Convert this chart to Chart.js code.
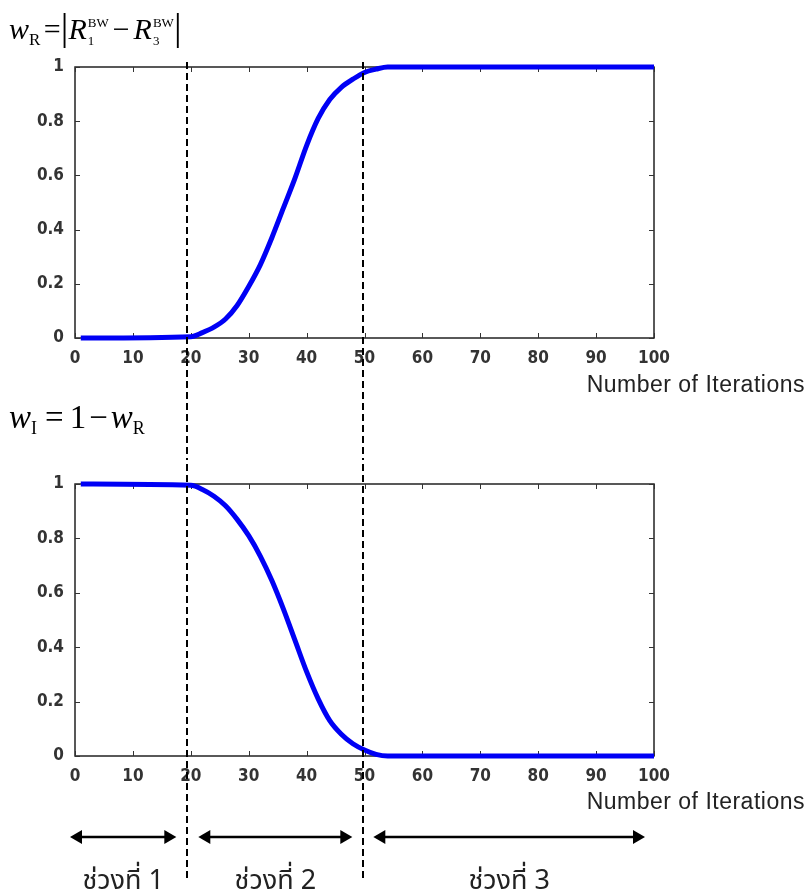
<!DOCTYPE html>
<html>
<head>
<meta charset="utf-8">
<script src="https://cdn.jsdelivr.net/npm/chart.js@4.4.1/dist/chart.umd.min.js"></script>
<style>
html,body{margin:0;padding:0;background:#fff;width:808px;height:894px;overflow:hidden;}
canvas{position:absolute;left:0;}
#c1{top:0;}
#c2{top:460px;}
.eq{position:absolute;font-family:'Liberation Serif','Times New Roman',serif;color:#000;white-space:nowrap;z-index:5;}
.noi{position:absolute;right:3px;font-family:'Liberation Sans',Arial,sans-serif;font-size:23px;letter-spacing:0.5px;color:#222;z-index:5;line-height:1;}
.ss{display:inline-block;vertical-align:-6px;font-size:13px;line-height:18px;font-style:normal;margin-left:1px;}
.ss span{display:block;}
</style>
</head>
<body>
<div class="eq" style="left:9px;top:4px;font-size:30px;">
<i>w</i><span style="font-size:17px;position:relative;top:6px;">R</span>
<span style="margin-left:-4px;">=</span><span style="font-size:38px;position:relative;top:1px;">|</span><i>R</i><span class="ss"><span>BW</span><span>1</span></span><span style="margin:0 4px;">−</span><i>R</i><span class="ss"><span>BW</span><span>3</span></span><span style="font-size:38px;position:relative;top:1px;">|</span>
</div>
<div class="eq" style="left:9px;top:399px;font-size:33px;">
<i>w</i><span style="font-size:18px;position:relative;top:6px;">I</span><span style="margin-left:8px;">=</span><span style="margin-left:6px;">1</span><span style="margin-left:3px;">−</span><i style="margin-left:3px;">w</i><span style="font-size:18px;position:relative;top:6px;">R</span>
</div>
<div class="noi" style="top:373px;">Number of Iterations</div>
<div class="noi" style="top:790px;">Number of Iterations</div>

<canvas id="c1" width="808" height="460"></canvas>
<canvas id="c2" width="808" height="434"></canvas>

<script>
// ---- data ----
const iterations = [1, 20, 22, 24, 26, 28, 30, 32, 34, 36, 38, 40, 42, 44, 46, 48, 50, 52, 54, 100];
const wR = [0, 0.005, 0.02, 0.04, 0.07, 0.12, 0.19, 0.27, 0.37, 0.48, 0.59, 0.71, 0.81, 0.88, 0.925, 0.955, 0.98, 0.992, 1, 1];
const wI = [1, 0.995, 0.98, 0.955, 0.92, 0.87, 0.81, 0.735, 0.645, 0.54, 0.425, 0.31, 0.21, 0.13, 0.08, 0.045, 0.022, 0.006, 0, 0];
const xTicks = [0, 10, 20, 30, 40, 50, 60, 70, 80, 90, 100];
const yTicks = [0, 0.2, 0.4, 0.6, 0.8, 1];
const phaseBounds = [19.4, 49.8];
const phaseLabels = ['ช่วงที่ 1', 'ช่วงที่ 2', 'ช่วงที่ 3'];

const tickFont = {family: "'DejaVu Sans Condensed','Liberation Sans Narrow','DejaVu Sans',sans-serif", size: 17, weight: 'bold'};
const LINE_BLUE = '#0000f5';

// draws the MATLAB-like box with inward ticks
const boxPlugin = {
  id: 'boxPlugin',
  beforeDatasetsDraw(chart) {
    const {ctx, chartArea: a, scales: {x, y}} = chart;
    ctx.save();
    ctx.strokeStyle = '#222';
    ctx.lineWidth = 1.5;
    ctx.strokeRect(a.left, a.top, a.right - a.left, a.bottom - a.top);
    ctx.lineWidth = 1;
    ctx.strokeStyle = '#333';
    const L = 5;
    x.ticks.forEach(t => {
      const px = Math.round(x.getPixelForValue(t.value)) + 0.5;
      ctx.beginPath();
      ctx.moveTo(px, a.bottom); ctx.lineTo(px, a.bottom - L);
      ctx.moveTo(px, a.top); ctx.lineTo(px, a.top + L);
      ctx.stroke();
    });
    y.ticks.forEach(t => {
      const py = Math.round(y.getPixelForValue(t.value)) + 0.5;
      ctx.beginPath();
      ctx.moveTo(a.left, py); ctx.lineTo(a.left + L, py);
      ctx.moveTo(a.right, py); ctx.lineTo(a.right - L, py);
      ctx.stroke();
    });
    ctx.restore();
  }
};

function dashes(ctx, px, y0, y1, offset) {
  ctx.save();
  ctx.strokeStyle = '#000';
  ctx.lineWidth = 2;
  ctx.setLineDash([7, 4]);
  ctx.lineDashOffset = offset || 0;
  ctx.beginPath();
  ctx.moveTo(px, y0); ctx.lineTo(px, y1);
  ctx.stroke();
  ctx.restore();
}

const topDashPlugin = {
  id: 'topDash',
  afterDatasetsDraw(chart) {
    const {ctx, chartArea: a, scales: {x}} = chart;
    phaseBounds.forEach(b => {
      const px = Math.round(x.getPixelForValue(b));
      dashes(ctx, px, a.top - 5, chart.height, 0);
    });
  }
};

function arrow(ctx, x1, x2, y) {
  const hl = 12, hw = 7;
  ctx.save();
  ctx.fillStyle = '#000';
  ctx.strokeStyle = '#000';
  ctx.lineWidth = 2.5;
  ctx.beginPath(); ctx.moveTo(x1 + hl - 1, y); ctx.lineTo(x2 - hl + 1, y); ctx.stroke();
  ctx.beginPath(); ctx.moveTo(x1, y); ctx.lineTo(x1 + hl, y - hw); ctx.lineTo(x1 + hl, y + hw); ctx.closePath(); ctx.fill();
  ctx.beginPath(); ctx.moveTo(x2, y); ctx.lineTo(x2 - hl, y - hw); ctx.lineTo(x2 - hl, y + hw); ctx.closePath(); ctx.fill();
  ctx.restore();
}

const bottomPlugin = {
  id: 'bottomAnno',
  afterDatasetsDraw(chart) {
    const {ctx, scales: {x}} = chart;
    phaseBounds.forEach(b => {
      const px = Math.round(x.getPixelForValue(b));
      dashes(ctx, px, 0, 422, (460 - 57) % 11);
    });
    const bx = [x.getPixelForValue(0), x.getPixelForValue(phaseBounds[0]), x.getPixelForValue(phaseBounds[1]), x.getPixelForValue(100)];
    const segs = [[bx[0] - 5, bx[1] - 11], [bx[1] + 11, bx[2] - 11], [bx[2] + 10, bx[3] - 9]];
    const ay = 377;
    segs.forEach((s, i) => {
      arrow(ctx, s[0], s[1], ay);
      ctx.save();
      ctx.fillStyle = '#222';
      ctx.font = "27px 'Noto Sans Thai','Loma','Garuda','Tlwg Typo','Noto Sans',sans-serif";
      ctx.textAlign = 'center';
      ctx.textBaseline = 'alphabetic';
      ctx.fillText(phaseLabels[i], (s[0] + s[1]) / 2, 429);
      ctx.restore();
    });
  }
};

function makeChart(id, values, padTop, xHeight, extraPlugin) {
  return new Chart(document.getElementById(id), {
    type: 'line',
    data: {
      datasets: [{
        data: iterations.map((it, i) => ({x: it, y: values[i]})),
        borderColor: LINE_BLUE,
        borderWidth: 5,
        pointRadius: 0,
        cubicInterpolationMode: 'monotone',
        fill: false,
        clip: false
      }]
    },
    options: {
      responsive: false,
      animation: false,
      events: [],
      layout: {padding: {top: padTop, right: 154, left: 0, bottom: 0}},
      plugins: {legend: {display: false}, tooltip: {enabled: false}, title: {display: false}},
      scales: {
        x: {
          type: 'linear', min: 0, max: 100,
          afterBuildTicks(s) { s.ticks = xTicks.map(v => ({value: v})); },
          afterFit(s) { s.height = xHeight; },
          grid: {display: false},
          border: {display: false},
          ticks: {font: tickFont, color: '#333', padding: 2, maxRotation: 0, autoSkip: false,
                  callback: v => String(v)}
        },
        y: {
          type: 'linear', min: 0, max: 1,
          afterBuildTicks(s) { s.ticks = yTicks.map(v => ({value: v})); },
          afterFit(s) { s.width = 75; },
          grid: {display: false},
          border: {display: false},
          ticks: {font: tickFont, color: '#333', padding: 3, callback: v => String(v)}
        }
      }
    },
    plugins: [boxPlugin, extraPlugin]
  });
}

makeChart('c1', wR, 67, 460 - 338, topDashPlugin);
makeChart('c2', wI, 24, 434 - 296, bottomPlugin);
</script>
</body>
</html>
